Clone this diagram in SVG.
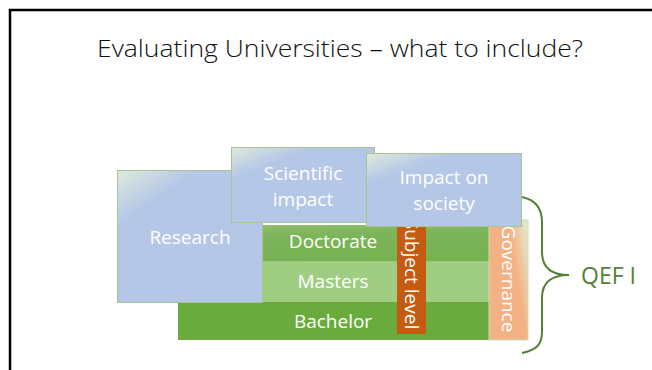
<svg xmlns="http://www.w3.org/2000/svg" width="652" height="370" viewBox="0 0 652 370">
<defs>
<style>
.lbl{font-family:"Open Sans","Liberation Sans",sans-serif;font-size:19px;fill:#ffffff;text-anchor:middle}
.blue{stroke:#a9c48f;stroke-width:1}
</style>
<linearGradient id="gBlue" x1="0" y1="0" x2="0.45" y2="0.6">
<stop offset="0" stop-color="#dfeadb"/>
<stop offset="0.45" stop-color="#b4c7e7"/>
<stop offset="1" stop-color="#b4c7e7"/>
</linearGradient>
<linearGradient id="gGov" x1="1" y1="0" x2="0.3" y2="0.35">
<stop offset="0" stop-color="#e2efd9"/>
<stop offset="0.6" stop-color="#f4b183"/>
<stop offset="1" stop-color="#f4b183"/>
</linearGradient>
<linearGradient id="gDoc" x1="0" y1="0" x2="0.2" y2="1">
<stop offset="0" stop-color="#8dbf6c"/>
<stop offset="0.3" stop-color="#7db55a"/>
<stop offset="1" stop-color="#76b152"/>
</linearGradient>
<clipPath id="subClip"><rect x="397" y="227" width="29" height="107"/></clipPath>
</defs>
<rect width="652" height="370" fill="#ffffff"/>
<path d="M10 370 V10 H652" fill="none" stroke="#000000" stroke-width="2.5"/>
<text x="340" y="57" font-family="'Open Sans','Liberation Sans',sans-serif" font-size="24" font-weight="300" fill="#111111" text-anchor="middle" textLength="486" lengthAdjust="spacingAndGlyphs">Evaluating Universities – what to include?</text>

<g id="bachelor">
<rect x="178" y="302" width="311" height="38" fill="#6aab3d"/>
<text class="lbl" x="333" y="328">Bachelor</text>
</g>
<g id="masters">
<rect x="263" y="261" width="226" height="41" fill="#9ccb7d"/>
<rect x="263" y="262" width="226" height="39" fill="#a2cf85" opacity="0.6"/>
<text class="lbl" x="333" y="288">Masters</text>
</g>
<g id="doctorate">
<rect x="263" y="225" width="226" height="36" fill="url(#gDoc)"/>
<text class="lbl" x="333" y="248">Doctorate</text>
</g>
<g id="governance">
<rect x="489" y="220" width="39" height="120" fill="url(#gGov)" stroke="#c5dfb4" stroke-width="1"/>
<text class="lbl" transform="translate(502 279) rotate(90)">Governance</text>
</g>
<g id="subject-level">
<rect x="397" y="225" width="29" height="109" fill="#c55a11"/>
<g clip-path="url(#subClip)">
<text class="lbl" transform="translate(405 274) rotate(90)">Subject level</text>
</g>
</g>
<g id="research">
<rect x="117.5" y="170.5" width="145" height="132" fill="url(#gBlue)" class="blue"/>
<text class="lbl" x="190" y="244">Research</text>
</g>
<g id="scientific-impact">
<rect x="231.5" y="147.5" width="143" height="75" fill="url(#gBlue)" class="blue"/>
<text class="lbl" x="303" y="180">Scientific</text>
<text class="lbl" x="303" y="206">impact</text>
</g>
<g id="impact-on-society">
<rect x="366.5" y="153.5" width="155" height="73" fill="url(#gBlue)" class="blue"/>
<text class="lbl" x="444" y="184">Impact on</text>
<text class="lbl" x="444" y="210">society</text>
</g>
<g id="qef">
<path d="M522 197 C536 200 542 208 542 222 V252 C542 266 550 275 569 275 C550 275 542 284 542 298 V332 C542 345 536 350 522 353" fill="none" stroke="#548235" stroke-width="2"/>
<text x="581" y="284" font-family="'Open Sans','Liberation Sans',sans-serif" font-size="23" fill="#548235">QEF I</text>
</g>
</svg>
